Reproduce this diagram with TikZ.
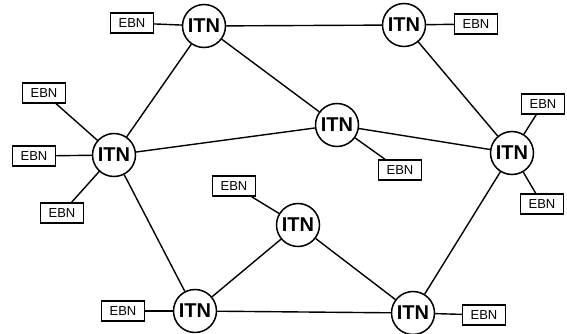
\documentclass[tikz,border=0pt]{standalone}
\usepackage{fontspec}
\setmainfont{Liberation Sans}
\begin{document}
\begin{tikzpicture}[x=1pt,y=-1pt,
  itn/.style={circle,draw,line width=1.5pt,minimum size=43pt,inner sep=0pt,fill=white,
    font=\fontsize{20}{20}\selectfont\bfseries},
  ebn/.style={rectangle,draw,line width=1.5pt,minimum width=43pt,minimum height=20pt,inner sep=0pt,fill=white,
    font=\fontsize{13}{13}\selectfont},
  link/.style={line width=1.4pt}]
\useasboundingbox (0,0) rectangle (567,334);
% backbone switching nodes
\node[itn] (A) at (204,26) {ITN};
\node[itn] (B) at (404,25) {ITN};
\node[itn] (C) at (337,125) {ITN};
\node[itn] (D) at (114,155) {ITN};
\node[itn] (E) at (512,153) {ITN};
\node[itn] (F) at (298,225) {ITN};
\node[itn] (G) at (195,311) {ITN};
\node[itn] (H) at (413,313) {ITN};
% edge nodes
\node[ebn] (eA) at (132,23) {EBN};
\node[ebn] (eB) at (476,24) {EBN};
\node[ebn] (eD1) at (44,93) {EBN};
\node[ebn] (eD2) at (34,156) {EBN};
\node[ebn] (eD3) at (62,213) {EBN};
\node[ebn] (eC) at (400,170) {EBN};
\node[ebn] (eE1) at (543,104) {EBN};
\node[ebn] (eE2) at (542,204) {EBN};
\node[ebn] (eF) at (234,186) {EBN};
\node[ebn] (eG) at (123,311) {EBN};
\node[ebn] (eH) at (484,315) {EBN};
% trunk links
\draw[link] (A) -- (B);
\draw[link] (A) -- (D);
\draw[link] (A) -- (C);
\draw[link] (D) -- (C);
\draw[link] (C) -- (E);
\draw[link] (B) -- (E);
\draw[link] (D) -- (G);
\draw[link] (G) -- (F);
\draw[link] (F) -- (H);
\draw[link] (G) -- (H);
\draw[link] (H) -- (E);
% access links
\draw[link] (eA) -- (A);
\draw[link] (eB) -- (B);
\draw[link] (eD1) -- (D);
\draw[link] (eD2) -- (D);
\draw[link] (eD3) -- (D);
\draw[link] (eC) -- (C);
\draw[link] (eE1) -- (E);
\draw[link] (eE2) -- (E);
\draw[link] (eF) -- (F);
\draw[link] (eG) -- (G);
\draw[link] (eH) -- (H);
\end{tikzpicture}
\end{document}
